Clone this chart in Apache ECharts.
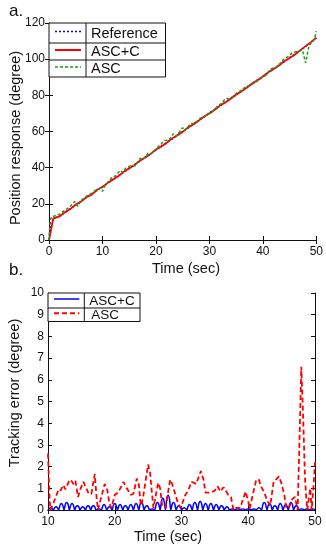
<!DOCTYPE html>
<html>
<head>
<meta charset="utf-8">
<script src="https://cdn.jsdelivr.net/npm/echarts@6/dist/echarts.min.js"></script>
<style>
html,body{margin:0;padding:0;background:#fff;}
#c{width:326px;height:550px;}
</style>
</head>
<body>
<div id="c"></div>
<script>
// ---------- Data ----------
// Panel a: position response (time sec, degree)
var referenceData = [[0,0],[0.3,9.5],[1,12],[2,13.3],[3,15.2],[4,17.4],[5,19.3],[6,21.4],[7,23.5],[8,25.3],[9,27.6],[10,29.5],[11,31.4],[12,33.7],[13,35.6],[14,37.5],[15,39.8],[16,41.7],[17,43.6],[18,45.9],[19,47.8],[20,49.7],[21,52],[22,53.9],[23,55.8],[24,58.1],[25,60],[26,61.9],[27,64.2],[28,66.1],[29,68],[30,70.3],[31,72.2],[32,74.1],[33,76.4],[34,78.3],[35,80.2],[36,82.5],[37,84.4],[38,86.3],[39,88.6],[40,90.5],[41,92.4],[42,94.7],[43,96.6],[44,98.5],[45,100.8],[46,102.7],[47,104.8],[48,107],[49,109.2],[50,111.7]];
var ascCData = [[0,0],[0.15,2],[0.8,12],[1,12.2],[2,13.1],[3,15.4],[4,17.1],[5,19.6],[6,21.2],[7,23.7],[8,25.1],[9,27.8],[10,29.3],[11,31.6],[12,33.5],[13,35.4],[14,37.8],[15,39.6],[16,41.5],[17,43.9],[18,45.6],[19,47.6],[20,50],[21,51.7],[22,53.7],[23,56.1],[24,57.8],[25,59.8],[26,62.2],[27,63.9],[28,66],[29,68.3],[30,70],[31,72],[32,74.4],[33,76.1],[34,78.1],[35,80.5],[36,82.2],[37,84.2],[38,86.6],[39,88.3],[40,90.4],[41,92.8],[42,94.5],[43,96.5],[44,98.9],[45,100.6],[46,102.6],[47,105],[48,107.2],[49,109.4],[50,112]];
var ascData = [[0,0],[0.2,10.5],[0.5,13],[1,13.3],[2,14.3],[3,16.5],[4,18.6],[4.8,21.3],[5.4,18.6],[6,21.9],[7,24.2],[8,25.8],[9,28.2],[9.6,28.5],[10,26.9],[10.5,30.2],[11,32],[11.8,34.6],[12.5,35.6],[13.3,38.4],[13.8,37.4],[14.3,39.6],[14.6,38.8],[15.2,41],[16.2,41.1],[17,45.2],[17.4,44.5],[18,45.5],[18.5,48],[19,47.5],[19.5,48.9],[20,50.3],[21,53.2],[21.6,55],[22.4,55.2],[23.3,58.8],[23.8,57.4],[25,62.1],[25.4,60.5],[25.7,61.2],[26.5,64.4],[27,64.3],[27.6,65.4],[28.3,67.5],[28.8,67.5],[29.5,69.3],[30.2,70.6],[30.6,70.9],[31.5,74],[32.2,75.4],[33,78.2],[33.6,78.2],[34.3,79.1],[35,81],[35.4,82.1],[35.8,82.4],[36.3,83.6],[37,85.2],[37.6,85.3],[38.2,86.5],[39.7,89.3],[40.1,90.6],[40.5,90.8],[41.3,94],[41.8,95],[42.4,95],[43,96.9],[44,100.2],[44.7,101.4],[45.5,103.5],[46,104],[46.7,104.6],[47.4,105],[48,98],[48.6,107],[49.2,110],[49.6,110.5],[50,115.5]];

// Panel b: tracking error (degree), ASC+C sampled every 0.2 s from t = 10
var errStart = 10, errStep = 0.2;
var ascCErr = [
0,.07,.1,.07, 0,.1,.15,.1,
0,.22,.3,.22, 0,.26,.35,.26, 0,.22,.3,.22, 0,.15,.2,.15,
0,.1,.15,.1, 0,.15,.2,.15, 0,.15,.2,.15,
0,.04,.05,.04,
0,.18,.25,.18, 0,.1,.15,.1,
0,.22,.3,.22, 0,.18,.25,.18, 0,.15,.2,.15,
0,.18,.25,.18, 0,.22,.3,.22, 0,.26,.35,.26,
0,.15,.2,.15,
0,.04,.05,.04,
0,.26,.35,.26, 0,.4,.55,.4, 0,.5,.68,.5,
0,.26,.35,.26, 0,.15,.2,.15,
0,.07,.1,.07, 0,.18,.25,.18,
0,.26,.35,.26, 0,.3,.4,.3, 0,.22,.3,.22,
0,.22,.3,.22, 0,.18,.25,.18, 0,.15,.2,.15, 0,.1,.15,.1,
0,.04,.05,.04, 0,.04,.05,.04, 0,.04,.05,.04, 0,.04,.05,.04, 0,.04,.05,.04,
0,.07,.1,.07, 0,.26,.35,.26, 0,.22,.3,.22, 0,.15,.2,.15,
0,.22,.3,.22, 0,.18,.25,.18, 0,.26,.35,.26, 0,.15,.2,.15,
0,.04,.05,.04, 0,.04,.05,.04, 0,.04,.05,.04,
0];
var ascErr = [[10,2.6],[10.2,0.8],[10.35,0],[10.6,0.15],[11.1,0.55],[11.6,0.95],[11.9,0.9],[12.3,1.15],[12.6,0.95],[13.1,1.3],[13.4,1.4],[13.8,1.2],[14.1,1.35],[14.5,0.6],[14.9,1.0],[15.3,1.3],[15.6,1.1],[16.1,0.75],[16.5,0.75],[17.0,1.65],[17.3,0.5],[17.5,0],[17.9,0.5],[18.5,1.2],[18.9,0.9],[19.2,0.3],[19.5,0.1],[20.0,0.7],[20.5,0.8],[21.0,1.1],[21.3,1.3],[21.8,1.0],[22.4,0.7],[22.8,0.75],[23.3,1.45],[23.6,1.2],[23.9,0.2],[24.2,0.5],[25,2.1],[25.3,1.7],[25.5,1.0],[25.8,0.1],[26.1,0.6],[26.5,1.25],[26.8,1.0],[27.1,0.2],[27.6,0.1],[28.3,1.4],[28.6,1.2],[29.0,0.8],[29.5,0.3],[29.9,0.1],[30.5,0.65],[31.0,0.9],[31.5,1.3],[32.2,1.2],[32.9,1.8],[33.3,1.4],[33.6,0.8],[34.4,0.8],[35.0,0.9],[35.4,1.1],[35.8,0.85],[36.3,1.05],[37.0,0.7],[37.4,0.6],[37.8,0],[38.2,0.1],[38.8,0.1],[39.6,0.85],[40.0,0.4],[40.2,0.05],[40.6,0.6],[41.2,1.4],[41.6,1.4],[41.9,1.1],[42.4,0.8],[42.9,0.4],[43.3,0.2],[43.8,1.3],[44.6,1.55],[45.0,1.2],[45.4,0.7],[45.7,0.1],[46.1,0.1],[46.6,0.5],[47.0,0.6],[47.4,0],[47.7,3.5],[47.95,6.6],[48.2,4.5],[48.5,1.5],[48.7,0.5],[48.85,0],[49.1,0.6],[49.3,1.0],[49.5,0],[49.8,1.2],[50,2.2]];

// Axis ticks
var xTicksA = {min:0, max:50, interval:10};
var yTicksA = {min:0, max:120, interval:20};
var xTicksB = {min:10, max:50, interval:10};
var yTicksB = {min:0, max:10, interval:1};

// Text
var legendA = ['Reference','ASC+C','ASC'];
var legendB = ['ASC+C','ASC'];
var xTitle = 'Time (sec)';
var yTitleA = 'Position response (degree)';
var yTitleB = 'Tracking error (degree)';

// ---------- Chart ----------
var FONT = '"Liberation Sans", Arial, sans-serif';
var BLUE = '#0000ff', RED = '#ff0000', GREEN = '#16a016', INK = '#111';

var ascCErrPairs = ascCErr.map(function(v,i){ return [errStart + i*errStep, v]; });

function axis(o, gridIndex, pos, labels){
  return {
    type:'value', gridIndex:gridIndex, position:pos,
    min:o.min, max:o.max, interval:o.interval,
    axisLine:{show:true, lineStyle:{color:INK, width:1}},
    axisTick:{show:true, inside:true, length:4, lineStyle:{color:INK}},
    axisLabel:{show:labels, color:INK, fontSize:12, fontFamily:FONT, margin: pos==='left'?4:6},
    splitLine:{show:false}
  };
}

var chart = echarts.init(document.getElementById('c'), null, {renderer:'canvas'});

function legendGraphics(x, y, w, rowH, colX, items){
  var els = [];
  els.push({type:'rect', z:100, shape:{x:x, y:y, width:w, height:rowH.reduce(function(a,b){return a+b;},0)},
    style:{fill:'#fff', stroke:INK, lineWidth:1}});
  var cy = y;
  items.forEach(function(it, i){
    if(i>0){
      els.push({type:'line', z:101, shape:{x1:x, y1:cy, x2:x+w, y2:cy}, style:{stroke:INK, lineWidth:1}});
    }
    var mid = cy + rowH[i]/2;
    els.push({type:'line', z:101, shape:{x1:x+6, y1:mid-1.5, x2:colX-5, y2:mid-1.5},
      style:{stroke:it.color, lineWidth:it.width, lineDash:it.dash}});
    els.push({type:'text', z:101, x:colX+5+(it.dx||0), y:mid+0.5,
      style:{text:it.text, fill:INK, font:it.font, verticalAlign:'middle', align:'left'}});
    cy += rowH[i];
  });
  els.push({type:'line', z:101, shape:{x1:colX, y1:y, x2:colX, y2:cy}, style:{stroke:INK, lineWidth:1}});
  return els;
}

var graphics = [
  {type:'text', x:9, y:3, style:{text:'a.', fill:INK, font:'17px '+FONT}},
  {type:'text', x:9, y:262, style:{text:'b.', fill:INK, font:'17px '+FONT}},
  {type:'text', x:186, y:269, style:{text:xTitle, fill:INK, font:'14.5px '+FONT, align:'center', verticalAlign:'middle'}},
  {type:'text', x:168, y:537, style:{text:xTitle, fill:INK, font:'14.5px '+FONT, align:'center', verticalAlign:'middle'}},
  {type:'text', x:16, y:138, rotation:Math.PI/2, style:{text:yTitleA, fill:INK, font:'14.5px '+FONT, align:'center', verticalAlign:'middle'}},
  {type:'text', x:15, y:393, rotation:Math.PI/2, style:{text:yTitleB, fill:INK, font:'14.5px '+FONT, align:'center', verticalAlign:'middle'}}
].concat(
  legendGraphics(49, 23, 116.5, [20,17,17], 86, [
    {text:legendA[0], color:BLUE, width:1.5, dash:[2,2], font:'14.5px '+FONT},
    {text:legendA[1], color:RED, width:2, dash:null, font:'14.5px '+FONT},
    {text:legendA[2], color:GREEN, width:1.5, dash:[3,2], font:'14.5px '+FONT}
  ]),
  legendGraphics(48, 293, 92, [15,13.5], 84.3, [
    {text:legendB[0], color:BLUE, width:1.5, dash:null, font:'13.5px '+FONT},
    {text:legendB[1], color:RED, width:1.8, dash:[5,3], font:'13.5px '+FONT, dx:2}
  ])
);

chart.setOption({
  animation:false,
  backgroundColor:'#fff',
  grid:[
    {left:49, top:23, width:269, height:217, show:false},
    {left:48, top:293, width:267, height:217, show:false}
  ],
  xAxis:[
    axis(xTicksA,0,'bottom',true),
    axis(xTicksB,1,'bottom',true),
    axis(xTicksA,0,'top',false),
    axis(xTicksB,1,'top',false)
  ],
  yAxis:[
    axis(yTicksA,0,'left',true),
    axis(yTicksB,1,'left',true),
    axis(yTicksA,0,'right',false),
    axis(yTicksB,1,'right',false)
  ],
  series:[
    {type:'line', name:'Reference', xAxisIndex:0, yAxisIndex:0, data:referenceData, showSymbol:false,
      lineStyle:{color:BLUE, width:1.5, type:[2,2]}, z:2},
    {type:'line', name:'ASC+C', xAxisIndex:0, yAxisIndex:0, data:ascCData, showSymbol:false,
      lineStyle:{color:RED, width:1.8}, z:3},
    {type:'line', name:'ASC', xAxisIndex:0, yAxisIndex:0, data:ascData, showSymbol:false,
      lineStyle:{color:GREEN, width:1.5, type:[3,2]}, z:4},
    {type:'line', name:'ASC+C err', xAxisIndex:1, yAxisIndex:1, data:ascCErrPairs, showSymbol:false, smooth:0.3,
      lineStyle:{color:BLUE, width:1.5}, z:3},
    {type:'line', name:'ASC err', xAxisIndex:1, yAxisIndex:1, data:ascErr, showSymbol:false,
      lineStyle:{color:RED, width:1.8, type:[5,3]}, z:4}
  ],
  graphic:graphics
});
</script>
</body>
</html>
